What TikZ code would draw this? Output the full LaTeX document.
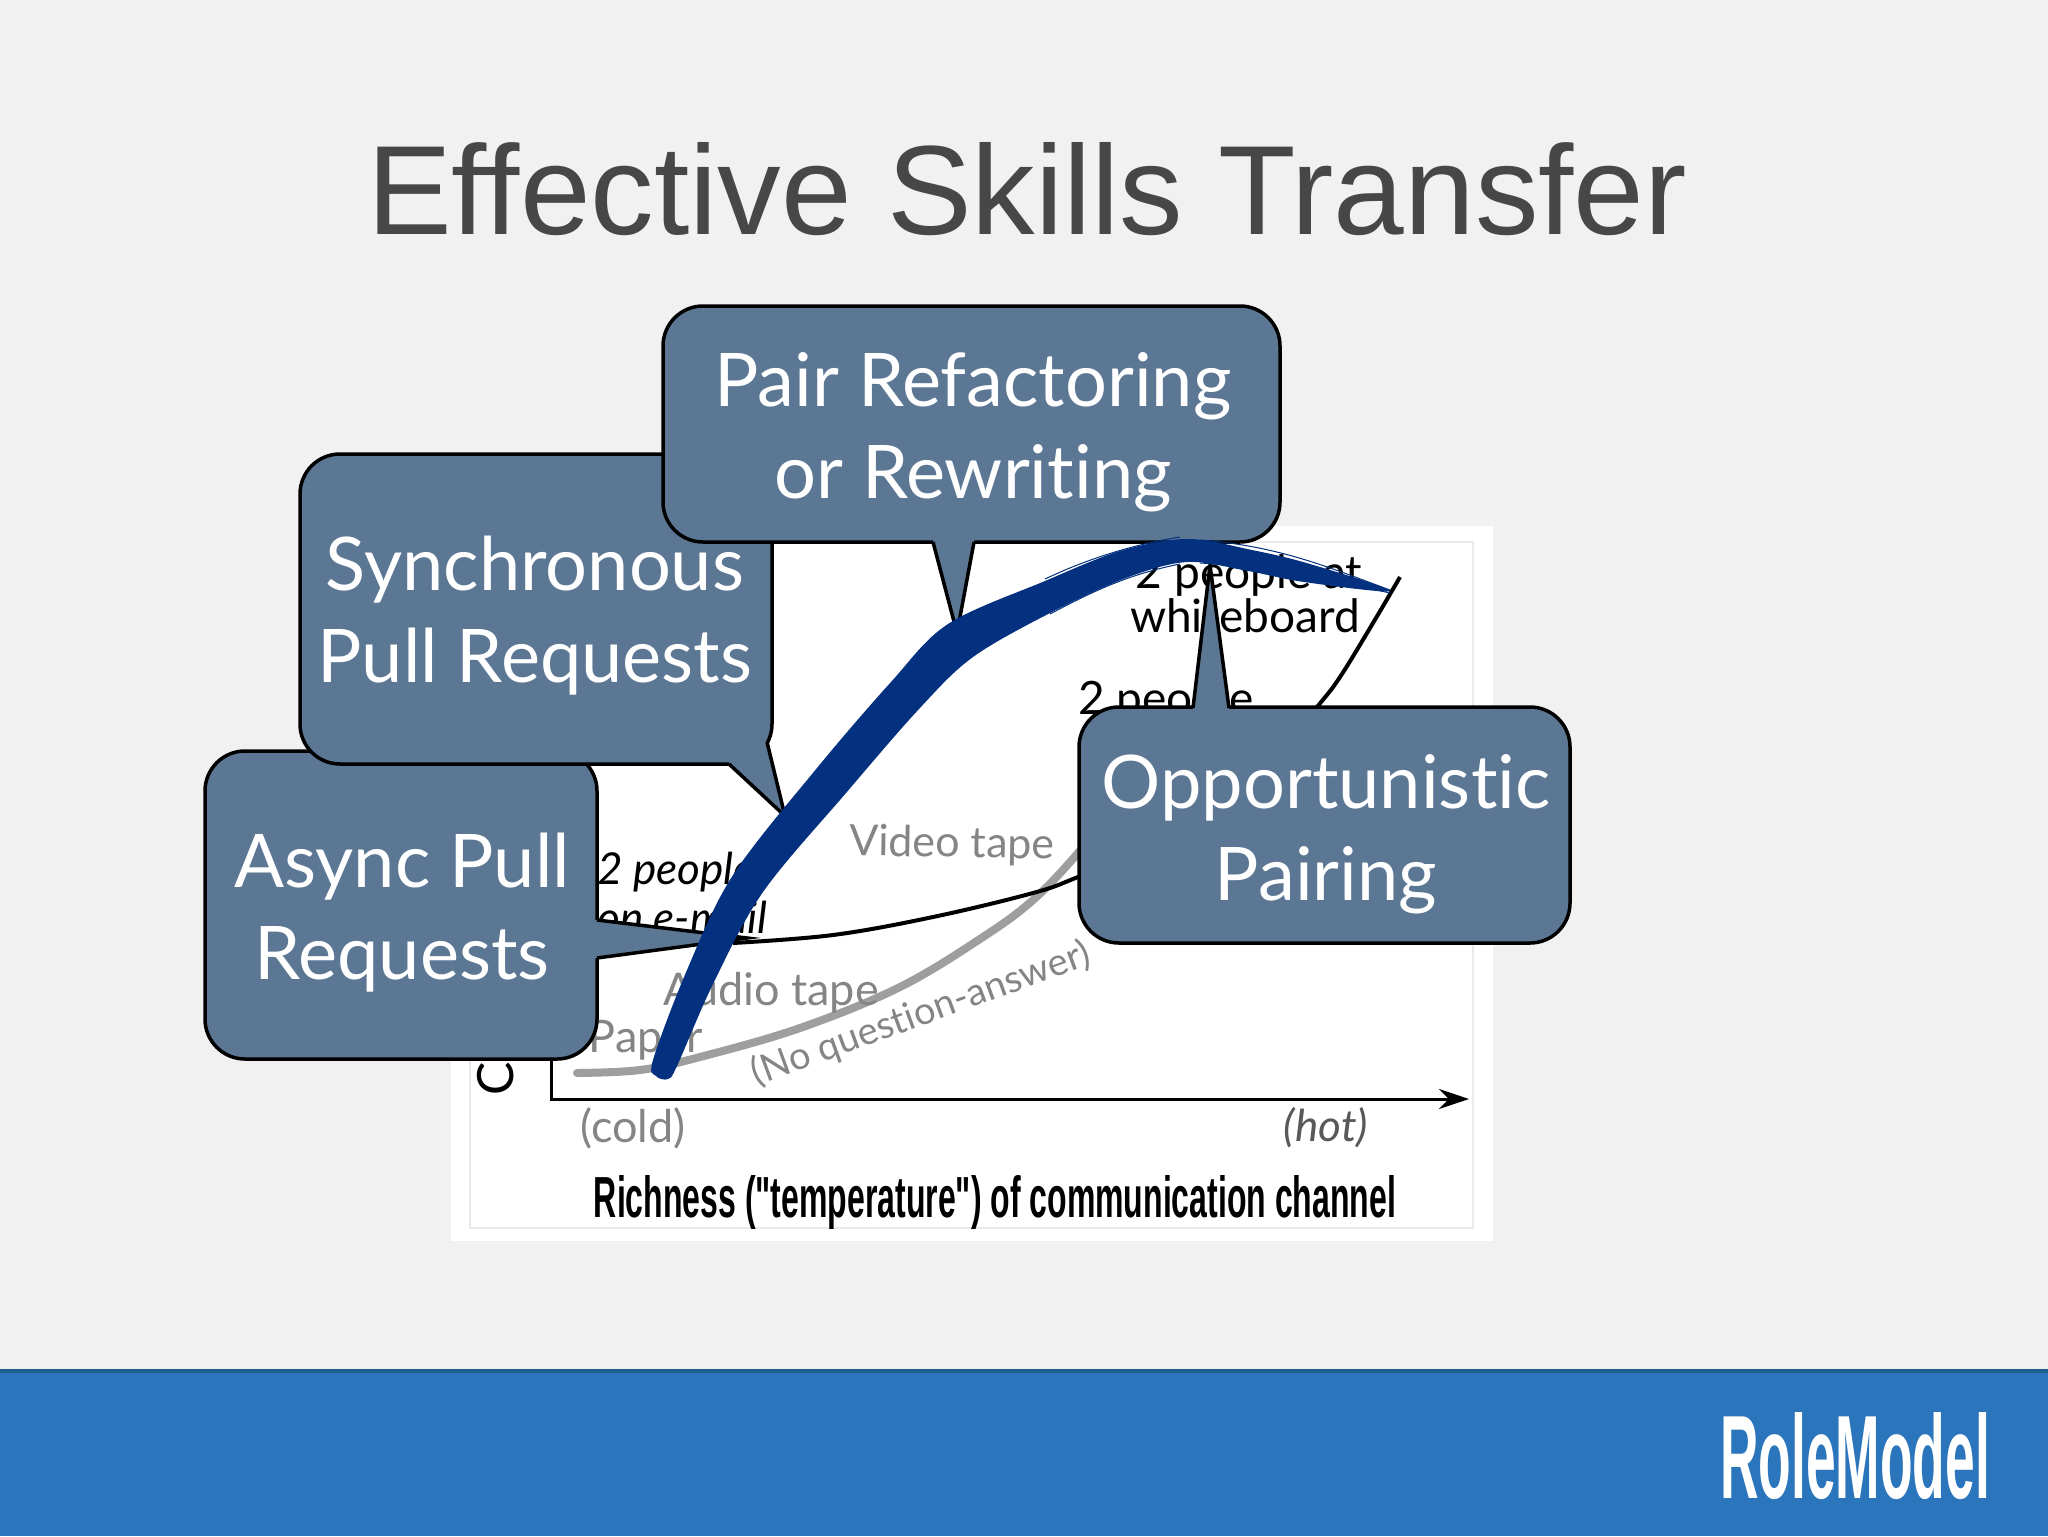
\documentclass[tikz,border=0pt]{standalone}
\usepackage{fontspec}
\usetikzlibrary{arrows.meta}
\setmainfont{Lato}[Ligatures=NoCommon]
\newfontfamily\titlefont{Liberation Sans}
\newfontfamily\boldcond{Liberation Sans}[BoldFont={Liberation Sans Bold}]
\definecolor{bgc}{HTML}{F1F1F2}
\definecolor{barc}{HTML}{2A75BB}
\definecolor{barline}{HTML}{1C5F8F}
\definecolor{bub}{HTML}{5B7794}
\definecolor{penblue}{HTML}{03307F}
\definecolor{framec}{HTML}{EAEAEA}
\definecolor{grayt}{HTML}{858585}
\tikzset{
  x=0.5pt,y=-0.5pt,
  bubble/.style={draw=black,fill=bub,line width=1.75pt,rounded corners=20pt},
  tailfill/.style={fill=bub},
  tailline/.style={draw=black,line width=1.75pt,line join=miter},
  bubtext/.style={text=white,font=\fontsize{37}{46}\selectfont,align=center,inner sep=0pt},
  chartgray/.style={text=grayt,font=\fontsize{22.5}{27}\selectfont,inner sep=0pt},
  chartblack/.style={text=black,font=\fontsize{23}{27}\selectfont,inner sep=0pt},
  curveblack/.style={draw=black,line width=2pt},
  curvegray/.style={draw=black!38,line width=4pt},
  streak/.style={draw=penblue,line width=0.5pt},
}
\begin{document}
\begin{tikzpicture}
\useasboundingbox (0,0) rectangle (2048,1536);
\fill[bgc] (0,0) rectangle (2048,1536);
% footer
\fill[barc] (0,1371) rectangle (2048,1536);
\fill[barline] (0,1369) rectangle (2048,1373);
\node[inner sep=0pt,text=white] (logo) at (1855,1456) {\resizebox{135pt}{43pt}{\boldcond\bfseries RoleModel}};
% title
\node[inner sep=0pt,text=black!72,font=\titlefont\fontsize{63.5}{70}\selectfont] (title) at (1027,189) {Effective Skills Transfer};
% chart panel
\fill[white] (451,526) rectangle (1493,1241);
\draw[framec,line width=1pt] (470,542) rectangle (1473,1228);
\draw[black,line width=1.5pt,-{Stealth[length=15pt,width=10pt]}] (551,600) -- (551,1099) -- (1469,1099);
\node[text=black,font=\fontsize{25}{28}\selectfont,rotate=90,inner sep=0pt] (cletter) at (496,1079) {C};
\draw[curvegray,line cap=round] plot[smooth,tension=0.6] coordinates {(577,1073) (640,1070) (700,1057) (800,1028) (900,987) (983,937) (1033,900) (1078,853) (1120,800)};
\draw[curveblack] plot[smooth,tension=0.6] coordinates {(733,943) (833,935) (933,917) (1033,893) (1078,877) (1180,835) (1260,775) (1317,707) (1340,677) (1373,623) (1400,577)};
\node[chartgray,rotate=-1,font=\fontsize{21.5}{27}\selectfont] (video) at (952,845) {Video tape};
\node[chartgray] (audio) at (771,993) {Audio tape};
\node[chartgray] (paper) at (646,1040) {Paper};
\node[chartgray,rotate=20,font=\fontsize{19}{24}\selectfont] (noq) at (921,1014) {(No question-answer)};
\node[chartgray] (cold) at (633,1128) {(cold)};
\node[chartgray,text=black!65,font=\fontsize{22}{27}\itshape\selectfont] (hot) at (1326,1128) {(hot)};
\node[inner sep=0pt,text=black] (xlabel) at (995,1202) {\resizebox{401pt}{21pt}{\boldcond\bfseries Richness ("temperature") of communication channel}};
\node[chartblack,anchor=west,font=\fontsize{22}{27}\itshape\selectfont] (email1) at (597,872) {2 people};
\node[chartblack,anchor=west,font=\fontsize{22}{27}\itshape\selectfont] (email2) at (597,917) {on e-mail};
\node[chartblack] (wb1) at (1249,575) {2 people at};
\node[chartblack] (wb2) at (1245,616) {whiteboard};
\node[chartblack,anchor=west] (phone) at (1078,701) {2 people};
% Async bubble
\draw[bubble] (205,751) rectangle (597,1059);
\fill[tailfill] (590,920) -- (597,920) -- (747,938) -- (597,958) -- (590,958) -- cycle;
\draw[tailline] (597,920) -- (747,938) -- (597,958);
\node[bubtext] (async) at (402,913) {Async Pull\\Requests};
% Sync bubble
\draw[bubble] (300,454) rectangle (772,764);
\fill[tailfill] (729,758) -- (729,764) -- (785,816) -- (767,742) -- (760,742) -- cycle;
\draw[tailline] (729,764) -- (785,816) -- (767,742);
\node[bubtext] (sync) at (535,616) {Synchronous\\Pull Requests};
% Pair bubble
\draw[bubble] (663,306) rectangle (1280,542);
\fill[tailfill] (933,535) -- (933,542) -- (957,633) -- (974,542) -- (974,535) -- cycle;
\draw[tailline] (933,542) -- (957,633) -- (974,542);
\node[bubtext] (pair) at (973,432) {Pair Refactoring\\or Rewriting};
% Opportunistic bubble
\draw[bubble] (1079,707) rectangle (1570,943);
\fill[tailfill] (1193,715) -- (1193,708) -- (1210,565) -- (1229,708) -- (1229,715) -- cycle;
\draw[tailline] (1193,708) -- (1210,565) -- (1229,708);
\node[bubtext] (opp) at (1326,834) {Opportunistic\\Pairing};
% blue freehand stroke
\path[fill=penblue] plot[smooth cycle,tension=0.55] coordinates {(653,1060) (687,970) (733,875) (817,768) (891,682) (948,624) (1045,581) (1120,551) (1187,539) (1252,550) (1310,564) (1390,591) (1304,582) (1248,571) (1187,562) (1126,578) (1052,612) (973,657) (919,709) (846,793) (763,892) (713,984) (677,1066) (668,1079) (656,1076)};
\draw[streak] (1200,540) .. controls (1280,546) and (1330,568) .. (1390,590);
\draw[streak] (1200,563) .. controls (1280,568) and (1330,580) .. (1390,593);
\draw[streak] (1045,579) .. controls (1085,560) and (1130,545) .. (1180,537);
\draw[streak] (1050,614) .. controls (1095,590) and (1130,574) .. (1180,564);
\end{tikzpicture}
\end{document}
